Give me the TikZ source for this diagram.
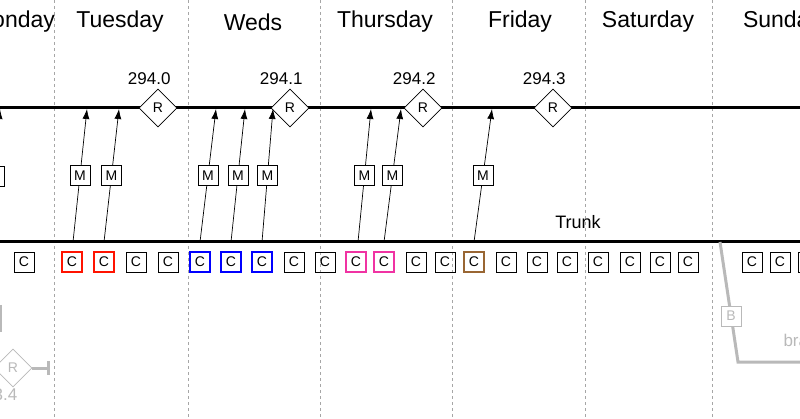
\documentclass[tikz,border=0pt]{standalone}
\usepackage{fontspec}
\setmainfont{Liberation Sans}
\usetikzlibrary{shapes.geometric,arrows.meta,calc}
\tikzset{
  cbox/.style={draw, line width=0.8pt, minimum size=20pt, inner sep=0pt, font=\fontsize{14}{14}\selectfont},
  mbox/.style={draw, fill=white, line width=0.8pt, minimum size=20pt, inner sep=0pt, font=\fontsize{14}{14}\selectfont},
  rdiam/.style={draw, fill=white, diamond, line width=0.8pt, minimum size=38pt, inner sep=0pt, font=\fontsize{14}{14}\selectfont},
  daysep/.style={dashed, gray!70, line width=0.6pt},
  merge/.style={-{Latex[length=10pt,width=7pt]}, line width=0.7pt},
  ghost/.style={draw=gray!55, text=gray!55}
}
\begin{document}
\begin{tikzpicture}[x=1pt, y=-1pt]
\useasboundingbox (0,0) rectangle (800,419);
\begin{scope}
\clip (0,0) rectangle (800,419);
% day columns
\foreach \x in {54,188,320,452,585,712}
  \draw[daysep] (\x,0) -- (\x,419);
\foreach \x/\day in {14/Monday,120/Tuesday,253/Weds,385/Thursday,520/Friday,648/Saturday,782/Sunday}
  \node[font=\fontsize{23}{23}\selectfont] (d\day) at (\x,22) {\day};
% release line and trunk
\coordinate (rl) at (-5,108); \coordinate (rr) at (805,108);
\coordinate (tl) at (-5,242); \coordinate (tr) at (805,242);
\draw[line width=3pt] (rl) -- (rr);
\draw[line width=3pt] (tl) -- (tr);
\node[font=\fontsize{18}{18}\selectfont] (trunk) at (578,222) {Trunk};
% releases
\foreach \x/\v [count=\i] in {158/294.0,290/294.1,423/294.2,553/294.3}{
  \node[rdiam] (r\i) at (\x,108) {R};
  \node[font=\fontsize{17}{17}\selectfont, anchor=south east] (rv\i) at ([xshift=16pt]r\i.north) {\v};
}
% commits on trunk
\foreach \x/\c/\w [count=\i] in {24/black/0.8,72/red!85!orange/2.6,104/red!85!orange/2.6,136/black/0.8,
  168/black/0.8,200/blue/2.6,231/blue/2.6,262/blue/2.6,294/black/0.8,325/black/0.8,
  356/magenta!80/2.6,384/magenta!80/2.6,416/black/0.8,445/black/0.8,474/brown!80!black/2.6,
  506/black/0.8,537/black/0.8,567/black/0.8,598/black/0.8,630/black/0.8,660/black/0.8,
  688/black/0.8,752/black/0.8,780/black/0.8,808/black/0.8}
  \node[cbox, draw=\c, line width=\w pt] (c\i) at (\x,262) {C};
% merges to release line
\foreach \i/\a/\b in {2/73/87,3/104/119,6/200/216,7/231/245,8/262/273,11/358/371,12/384/401,15/474/492}{
  \coordinate (f\i) at (\a,242);
  \coordinate (t\i) at (\b,109);
  \draw[merge] (f\i) -- (t\i);
  \node[mbox] (m\i) at ($(f\i)!0.5!(t\i)$) {M};
}
\node[mbox] (m0) at (-6,176) {M};
\coordinate (a0) at (-2,132); \coordinate (b0) at (0,109);
\draw[merge] (a0) -- (b0);
% old branch (ghosted)
\node[rdiam, ghost] (rold) at (13,368) {R};
\coordinate (rend) at (50,368);
\draw[gray!55, line width=3pt, -{Bar[width=14pt]}] (rold) -- (rend);
\node[text=gray!55, font=\fontsize{17}{17}\selectfont] (rvold) at (-4,395) {293.4};
\coordinate (g1) at (0,305); \coordinate (g2) at (0,332);
\draw[gray!55, line width=3pt] (g1) -- (g2);
% new branch
\coordinate (bs) at (720,242); \coordinate (bk) at (738,362); \coordinate (be) at (805,362);
\draw[gray!55, line width=3pt] (bs) -- (bk) -- (be);
\node[mbox, ghost] (bb) at (731,316) {B};
\node[text=gray!55, font=\fontsize{17}{17}\selectfont, anchor=west] (bn) at (780,340) {branch};
\end{scope}
\end{tikzpicture}
\end{document}
